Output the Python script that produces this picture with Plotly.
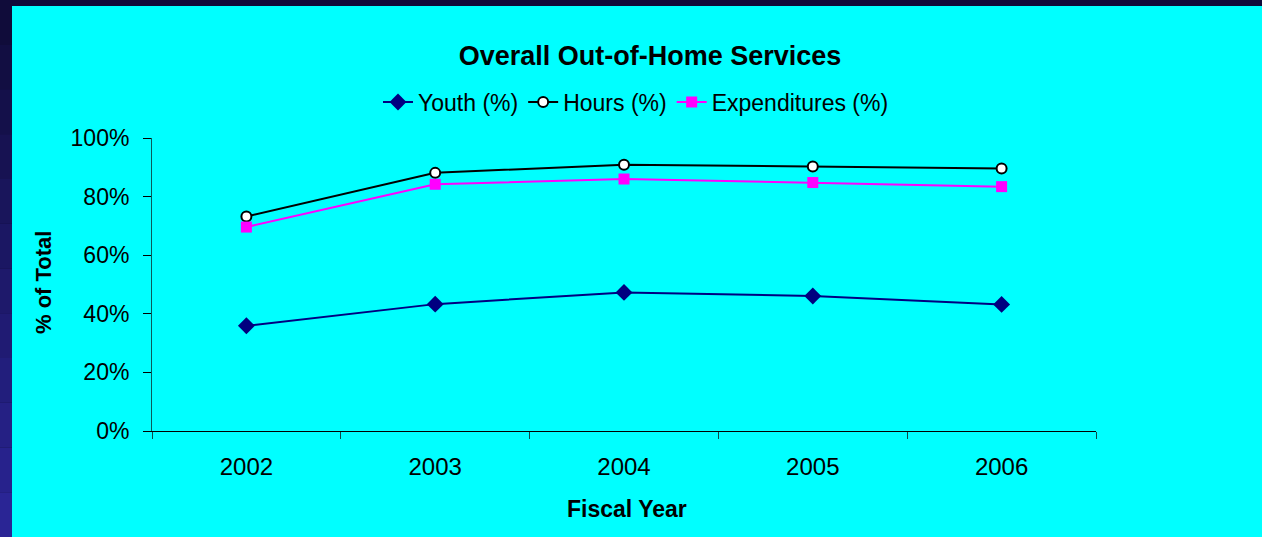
import plotly.graph_objects as go

years = ["2002", "2003", "2004", "2005", "2006"]
youth = [0.359, 0.433, 0.473, 0.461, 0.432]
hours = [0.732, 0.881, 0.909, 0.903, 0.896]
expenditures = [0.696, 0.842, 0.860, 0.848, 0.834]

W, H = 1262, 537
L, R, T, B = 152, 1096, 138, 431

def px(x):
    return (x - L) / (R - L)

def py(y):
    return (B - y) / (B - T)

fig = go.Figure()
fig.add_trace(go.Scatter(x=years, y=youth, name="Youth (%)", mode="lines+markers",
                         line=dict(color="#000080", width=2),
                         marker=dict(symbol="diamond", size=13, color="#000080")))
fig.add_trace(go.Scatter(x=years, y=hours, name="Hours (%)", mode="lines+markers",
                         line=dict(color="#000000", width=2),
                         marker=dict(symbol="circle", size=10, color="white",
                                     line=dict(color="black", width=2))))
fig.add_trace(go.Scatter(x=years, y=expenditures, name="Expenditures (%)", mode="lines+markers",
                         line=dict(color="#ff00ff", width=2),
                         marker=dict(symbol="square", size=11, color="#ff00ff")))

shapes = []
n = 12
for i in range(n):
    y0 = H * i / n
    y1 = H * (i + 1) / n
    f = i / (n - 1)
    r = int(0x10 + (0x2a - 0x10) * f)
    g = int(0x0c + (0x25 - 0x0c) * f)
    b = int(0x3a + (0x95 - 0x3a) * f)
    shapes.append(dict(type="rect", xref="paper", yref="paper", layer="below",
                       x0=px(0), x1=px(12), y0=py(y1), y1=py(y0),
                       fillcolor=f"rgb({r},{g},{b})", line=dict(width=0)))
shapes.append(dict(type="rect", xref="paper", yref="paper", layer="below",
                   x0=px(12), x1=px(W + 2), y0=py(H + 2), y1=py(6),
                   fillcolor="#00ffff", line=dict(width=0)))

fig.update_layout(
    width=W, height=H,
    margin=dict(l=L, r=W - R, t=T, b=H - B),
    paper_bgcolor="#100c3a",
    plot_bgcolor="#00ffff",
    font=dict(family="Arial, Liberation Sans, sans-serif", color="black", size=22),
    title=dict(text="<b>Overall Out-of-Home Services</b>", x=px(650), xref="paper",
               xanchor="center", y=1 - 56 / H, yanchor="middle", yref="container",
               font=dict(size=27, color="black")),
    showlegend=True,
    legend=dict(orientation="h", x=px(636), xanchor="center", y=py(102), yanchor="middle",
                bgcolor="rgba(0,0,0,0)", font=dict(size=23), itemwidth=30,
                tracegroupgap=0),
    shapes=shapes,
    annotations=[
        dict(text="<b>% of Total</b>", x=px(43), y=py(283), xref="paper", yref="paper",
             textangle=-90, showarrow=False, font=dict(size=22), xanchor="center", yanchor="middle"),
        dict(text="<b>Fiscal Year</b>", x=px(627), y=py(509), xref="paper", yref="paper",
             showarrow=False, font=dict(size=23), xanchor="center", yanchor="middle"),
    ],
)
fig.update_xaxes(type="category", range=[-0.5, 4.5], tickson="boundaries", ticks="outside", ticklen=7,
                 tickcolor="#0a4a4a", showline=True, linecolor="black", linewidth=1,
                 showgrid=False, zeroline=False, tickfont=dict(size=24),
                 ticklabelstandoff=14)
fig.update_yaxes(range=[0, 1], dtick=0.2, tickformat=".0%", ticks="outside", ticklen=8,
                 tickcolor="black", showline=True, linecolor="#0a5a5a", linewidth=1,
                 showgrid=False, zeroline=False, tickfont=dict(size=23),
                 ticklabelstandoff=9)

fig.write_html("out.html", config={"displayModeBar": False},
               post_script="document.body.style.margin='0';document.body.style.padding='0';"
                           "document.body.style.background='#00ffff';"
                           "document.body.style.overflow='hidden';")
